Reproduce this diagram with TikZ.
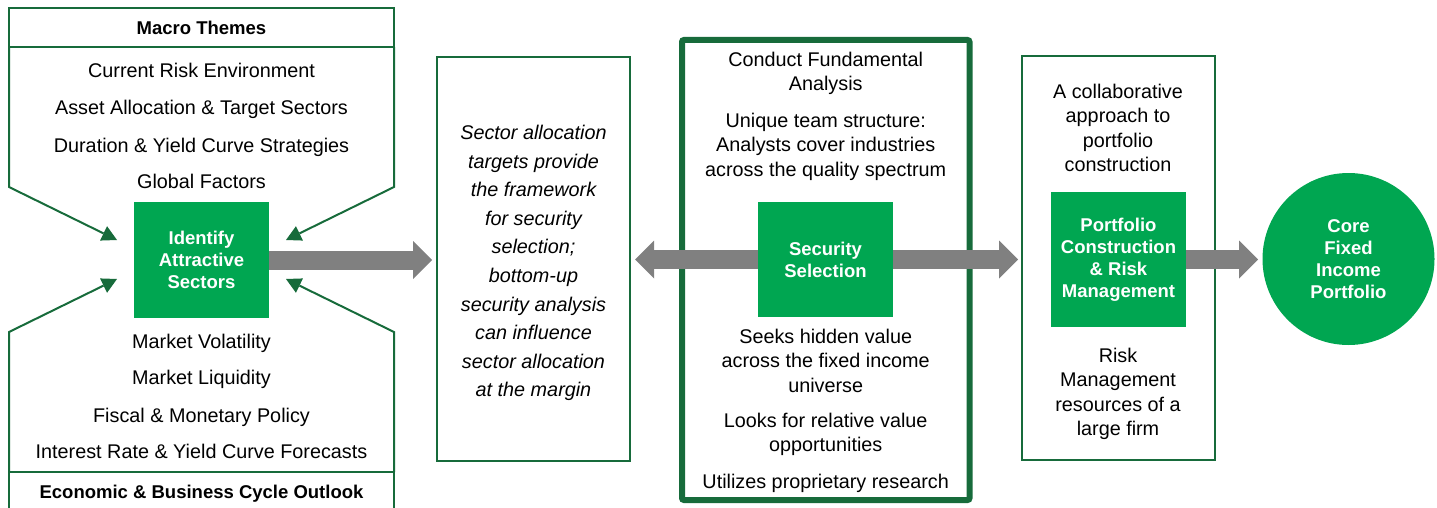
\documentclass[tikz,border=0pt]{standalone}
\usepackage{fontspec}
\setmainfont{Liberation Sans}
\usetikzlibrary{arrows.meta,calc}
\definecolor{dkgreen}{RGB}{23,107,59}
\definecolor{brgreen}{RGB}{0,166,81}
\definecolor{arrgray}{RGB}{128,128,128}

\begin{document}
\begin{tikzpicture}[x=1pt,y=-1pt,
  frame/.style={draw=dkgreen,line width=2pt,inner sep=0pt,outer sep=0pt},
  greenbox/.style={fill=brgreen,text=white,font=\fontsize{18.5}{22}\selectfont\bfseries,
    align=center,inner sep=0pt,outer sep=0pt},
  head/.style={frame,font=\fontsize{18.5}{22}\selectfont\bfseries,minimum width=385pt},
  item/.style={font=\fontsize{19.8}{24}\selectfont,anchor=base,inner sep=0pt},
  para/.style={font=\fontsize{19.8}{24.3}\selectfont,align=center,anchor=north,inner sep=0pt},
  itpara/.style={font=\fontsize{19.8}{28.6}\selectfont\itshape,align=center,anchor=north,inner sep=0pt},
  inarrow/.style={draw=dkgreen,line width=2pt,-{Triangle[length=15pt,width=16pt,line width=0pt]}},
  fat/.style={draw=arrgray,line width=19pt,-{Triangle[length=19pt,width=38pt,line width=0pt]}},
]
\useasboundingbox (0,0) rectangle (1437,508);

% ---- macro inputs panel ----
\node[head,minimum height=39pt] (macro) at (201.5,27.5) {Macro Themes};
\node[head,minimum height=44pt] (econ) at (201.5,494) {Economic \& Business Cycle Outlook};

\node[item] (t1) at (201.5,78)  {Current Risk Environment};
\node[item] (t2) at (201.5,115) {Asset Allocation \& Target Sectors};
\node[item] (t3) at (201.5,152) {Duration \& Yield Curve Strategies};
\node[item] (t4) at (201.5,188) {Global Factors};
\node[item] (b1) at (201.5,348) {Market Volatility};
\node[item] (b2) at (201.5,384) {Market Liquidity};
\node[item] (b3) at (201.5,422) {Fiscal \& Monetary Policy};
\node[item] (b4) at (201.5,458) {Interest Rate \& Yield Curve Forecasts};

\node[greenbox,minimum width=135pt,minimum height=116pt] (ident) at (201.5,260)
  {Identify\\Attractive\\Sectors};

\coordinate (tl) at (9,187);
\coordinate (tr) at (394,187);
\coordinate (bl) at (9,332);
\coordinate (br) at (394,332);
\draw[inarrow] (macro.south west) -- (tl) -- ($(ident.west)+(-17,-20)$);
\draw[inarrow] (macro.south east) -- (tr) -- ($(ident.east)+(17,-20)$);
\draw[inarrow] (econ.north west) -- (bl) -- ($(ident.west)+(-17,19)$);
\draw[inarrow] (econ.north east) -- (br) -- ($(ident.east)+(17,19)$);

% ---- sector allocation note ----
\node[frame,minimum width=193pt,minimum height=404pt] (mid) at (533.5,259) {};
\node[itpara] (midtxt) at (533.5,125)
  {Sector allocation\\targets provide\\the framework\\for security\\selection;\\bottom-up\\security analysis\\can influence\\sector allocation\\at the margin};

% ---- security selection ----
\node[draw=dkgreen,line width=6pt,rounded corners=2pt,minimum width=287.5pt,
  minimum height=460pt,inner sep=0pt,outer sep=0pt] (ctr) at (825.75,270) {};
\node[greenbox,minimum width=135pt,minimum height=115pt] (ssel) at (825.5,259.5)
  {Security\\Selection};
\node[para] (c1) at (825.7,51.7) {Conduct Fundamental\\Analysis};
\node[para] (c2) at (825.7,113) {Unique team structure:\\Analysts cover industries\\across the quality spectrum};
\node[para] (c3) at (825.7,329) {Seeks hidden value\\across the fixed income\\universe};
\node[para] (c4) at (825.7,413) {Looks for relative value\\opportunities};
\node[para] (c5) at (825.7,474) {Utilizes proprietary research};

% ---- portfolio construction ----
\node[frame,minimum width=193pt,minimum height=404pt] (pcbox) at (1118.5,258) {};
\node[greenbox,minimum width=135pt,minimum height=135pt] (pcrm) at (1118.5,259.5)
  {Portfolio\\Construction\\\& Risk\\Management};
\node[para] (r1) at (1118,84) {A collaborative\\approach to\\portfolio\\construction};
\node[para] (r2) at (1118,348) {Risk\\Management\\resources of a\\large firm};

% ---- result ----
\node[circle,fill=brgreen,text=white,font=\fontsize{18.5}{22}\selectfont\bfseries,
  align=center,minimum size=172pt,inner sep=0pt,outer sep=0pt] (core) at (1348.5,259)
  {Core\\Fixed\\Income\\Portfolio};

% ---- flow arrows ----
\draw[fat,shorten >=5pt] (ident.east) -- (ident.east -| mid.west);
\draw[fat,shorten >=5pt] (ssel.west) -- (ssel.west -| mid.east);
\draw[fat,shorten >=4pt] (ssel.east) -- (ssel.east -| pcbox.west);
\draw[fat,shorten >=4.5pt] (pcrm.east) -- (pcrm.east -| core.west);
\end{tikzpicture}
\end{document}
